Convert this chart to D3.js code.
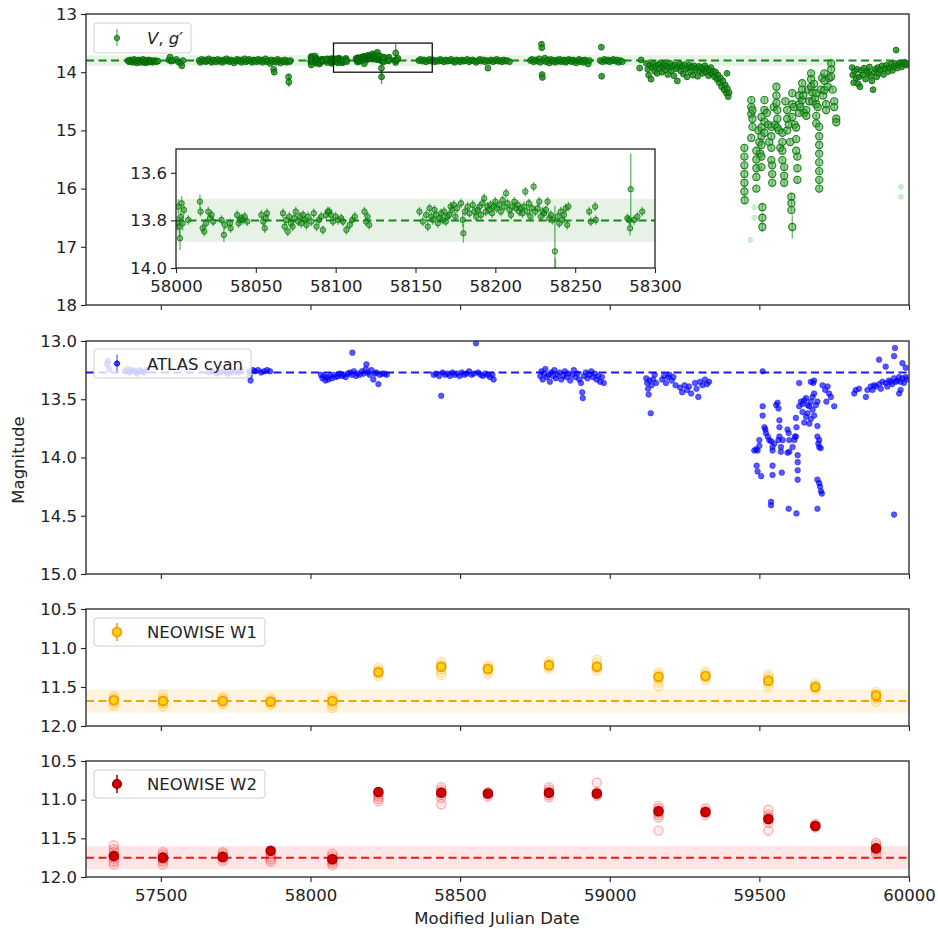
<!DOCTYPE html>
<html>
<head>
<meta charset="utf-8">
<script src="https://cdn.jsdelivr.net/npm/d3@7"></script>
<style>
  body { margin: 0; background: #fff; }
  svg { display: block; }
</style>
</head>
<body>
<svg id="chart" width="938" height="929"></svg>
<script>
// ---------- tick values ----------
const xTicks = [57500, 58000, 58500, 59000, 59500, 60000];
const insetXTicks = [58000, 58050, 58100, 58150, 58200, 58250, 58300];
const vgYTicks = [13, 14, 15, 16, 17, 18];
const atlasYTicks = [13.0, 13.5, 14.0, 14.5, 15.0];
const wiseYTicks = [10.5, 11.0, 11.5, 12.0];
const insetYTicks = [13.6, 13.8, 14.0];

// ---------- reference levels ----------
const vgMean = 13.80, vgBand = [13.71, 13.89], vgBandEnd = 59745;
const atlasMean = 13.27;
const w1Mean = 11.68, w1Band = [11.53, 11.83];
const w2Mean = 11.75, w2Band = [11.60, 11.90];
const zoomBox = [58077, 58407, 13.5, 14.0];

// ---------- V, g' photometry  [MJD, mag, err] ----------
const vgEarly = [
  [57390,13.80,.02],[57394,13.82,.02],[57398,13.79,.02],[57402,13.81,.02],[57405,13.83,.02],[57408,13.80,.02],
  [57411,13.78,.02],[57414,13.82,.02],[57417,13.81,.02],[57420,13.84,.02],[57423,13.80,.02],[57426,13.79,.02],
  [57429,13.82,.02],[57432,13.83,.02],[57435,13.80,.02],[57438,13.81,.02],[57441,13.78,.02],[57444,13.82,.02],
  [57447,13.84,.02],[57450,13.81,.02],[57453,13.80,.02],[57456,13.83,.02],[57459,13.79,.02],[57462,13.82,.02],
  [57465,13.81,.02],[57468,13.80,.02],[57472,13.83,.02],[57476,13.81,.02],[57480,13.80,.02],[57485,13.82,.02],
  [57490,13.81,.02],
  [57527,13.79,.03],[57531,13.74,.03],[57535,13.81,.02],[57540,13.80,.02],[57552,13.78,.02],[57558,13.82,.02],
  [57566,13.84,.03],[57570,13.89,.03],[57574,13.80,.02],
  [57628,13.80,.02],[57632,13.83,.02],[57636,13.78,.02],[57641,13.81,.02],[57646,13.79,.02],[57650,13.82,.02],
  [57655,13.80,.02],[57660,13.77,.02],[57665,13.81,.02],[57670,13.83,.02],[57675,13.79,.02],[57680,13.80,.02],
  [57685,13.82,.02],[57690,13.78,.02],[57695,13.81,.02],[57700,13.80,.02],[57705,13.83,.02],[57710,13.79,.02],
  [57715,13.81,.02],[57720,13.77,.02],[57725,13.80,.02],[57730,13.82,.02],[57735,13.79,.02],[57740,13.81,.02],
  [57745,13.84,.02],[57750,13.80,.02],[57755,13.78,.02],[57760,13.81,.02],[57765,13.79,.02],[57770,13.83,.02],
  [57775,13.80,.02],[57780,13.77,.02],[57785,13.82,.02],[57790,13.80,.02],[57795,13.78,.02],[57800,13.81,.02],
  [57805,13.83,.02],[57810,13.79,.02],[57815,13.80,.02],[57820,13.82,.02],[57825,13.78,.02],[57830,13.81,.02],
  [57835,13.79,.02],[57840,13.83,.02],[57845,13.80,.02],[57850,13.77,.02],[57855,13.82,.02],[57860,13.80,.02],
  [57865,13.85,.02],[57870,13.79,.02],[57874,13.82,.02],[57877,13.95,.03],[57879,14.00,.03],[57882,13.80,.02],
  [57886,13.83,.02],[57890,13.78,.02],[57895,13.81,.02],[57900,13.84,.02],[57905,13.80,.02],[57910,13.82,.02],
  [57915,13.79,.02],[57920,13.83,.02],[57924,13.81,.02],[57927,14.08,.05],[57928,14.17,.08],[57930,13.82,.02],
  [57933,13.80,.02]
];

// densely sampled stretch, also shown in the zoom-in panel
const vgInset = [
  [58000.8,13.812,.03],[58001.5,13.742,.03],[58002.1,13.826,.04],[58002.5,13.875,.05],[58003.1,13.784,.03],
  [58003.5,13.728,.03],[58004.2,13.812,.03],[58005.0,13.756,.02],[58007.7,13.798,.02],
  [58015.0,13.721,.03],[58015.4,13.763,.02],[58016.7,13.833,.02],[58017.7,13.847,.02],[58018.8,13.812,.02],
  [58020.2,13.763,.02],[58021.3,13.791,.02],[58022.3,13.777,.02],[58023.3,13.805,.02],
  [58028.5,13.798,.02],[58030.0,13.861,.03],[58030.6,13.819,.02],[58033.8,13.812,.02],[58034.2,13.833,.02],
  [58038.3,13.777,.02],[58039.2,13.812,.02],[58040.0,13.798,.02],[58041.0,13.791,.02],[58042.0,13.798,.02],
  [58043.0,13.784,.02],[58044.6,13.805,.02],
  [58053.5,13.777,.02],[58054.6,13.805,.02],[58055.6,13.833,.02],[58056.3,13.791,.02],[58057.0,13.770,.02],
  [58067.0,13.770,.02],[58068.0,13.826,.02],[58069.0,13.798,.02],[58070.0,13.847,.02],[58071.0,13.784,.02],
  [58072.0,13.812,.02],[58073.0,13.826,.02],[58074.0,13.791,.02],[58075.0,13.763,.02],[58076.5,13.805,.02],
  [58077.5,13.784,.02],[58078.5,13.812,.02],[58079.6,13.777,.02],[58080.6,13.798,.02],[58081.7,13.819,.02],
  [58082.7,13.784,.02],
  [58084.8,13.805,.02],[58086.3,13.770,.02],[58088.0,13.826,.02],[58089.6,13.798,.02],[58091.0,13.784,.02],
  [58092.0,13.840,.02],[58094.0,13.777,.02],[58095.0,13.763,.02],[58096.0,13.763,.02],[58097.0,13.777,.02],
  [58098.3,13.805,.02],[58100.0,13.784,.02],[58101.5,13.798,.02],[58103.5,13.791,.02],[58104.6,13.805,.02],
  [58106.7,13.840,.02],[58108.8,13.819,.02],[58110.4,13.798,.02],[58112.0,13.784,.02],
  [58118.0,13.763,.02],[58119.0,13.805,.02],[58120.0,13.784,.02],[58121.0,13.819,.02],
  [58152.5,13.763,.02],[58154.6,13.805,.02],[58156.7,13.777,.02],[58157.7,13.826,.02],[58158.8,13.749,.02],
  [58159.8,13.784,.02],[58160.8,13.798,.02],[58161.9,13.756,.02],[58162.9,13.777,.02],[58164.0,13.812,.02],
  [58165.0,13.791,.02],[58166.0,13.770,.02],[58167.0,13.798,.02],[58168.0,13.763,.02],[58169.0,13.805,.02],
  [58170.0,13.784,.02],[58171.0,13.777,.02],[58172.0,13.742,.02],[58173.0,13.756,.02],[58174.0,13.735,.02],
  [58175.0,13.784,.02],[58176.0,13.749,.02],[58178.5,13.728,.02],[58179.6,13.798,.03],[58180.0,13.854,.04],
  [58181.0,13.763,.02],[58182.7,13.742,.02],[58183.8,13.770,.02],[58185.8,13.735,.02],[58186.9,13.763,.02],
  [58188.0,13.784,.02],[58189.0,13.756,.02],[58190.0,13.742,.02],[58191.0,13.777,.02],[58192.0,13.728,.02],
  [58193.0,13.707,.02],[58194.0,13.763,.02],[58195.0,13.742,.02],[58196.0,13.756,.02],[58197.0,13.735,.02],
  [58198.0,13.770,.02],[58199.0,13.742,.02],[58200.0,13.721,.02],[58201.0,13.749,.02],[58202.5,13.735,.02],
  [58203.5,13.763,.02],[58204.6,13.714,.02],[58205.6,13.742,.02],[58206.7,13.686,.02],[58207.7,13.728,.02],
  [58208.8,13.756,.02],[58209.8,13.777,.02],[58210.8,13.742,.02],[58211.9,13.721,.02],[58213.0,13.749,.02],
  [58214.0,13.735,.02],[58215.0,13.763,.02],[58216.0,13.749,.02],[58217.0,13.770,.02],[58218.0,13.742,.02],
  [58218.8,13.679,.02],[58220.0,13.763,.02],[58221.0,13.728,.02],[58222.0,13.784,.02],[58223.0,13.749,.02],
  [58224.0,13.658,.02],[58225.0,13.763,.02],[58226.5,13.749,.02],[58227.5,13.721,.02],[58228.5,13.784,.02],
  [58229.6,13.763,.02],[58230.6,13.770,.02],[58231.7,13.756,.02],[58232.7,13.721,.02],[58233.8,13.791,.02],
  [58234.8,13.777,.02],[58235.8,13.798,.02],
  [58237.3,13.930,.19],[58237.6,14.080,.12],
  [58239.0,13.784,.02],[58240.0,13.812,.02],[58241.0,13.763,.02],[58242.0,13.798,.02],[58243.0,13.777,.02],
  [58244.0,13.749,.02],[58245.0,13.819,.02],[58245.8,13.742,.02],
  [58258.8,13.763,.02],[58259.8,13.805,.02],[58262.5,13.742,.02],[58262.9,13.798,.02],
  [58282.7,13.791,.02],[58283.8,13.798,.02],[58284.4,13.833,.03],[58284.8,13.669,.15],[58286.9,13.798,.02],
  [58289.0,13.784,.02],[58292.0,13.763,.02]
];

const vgMid = [
  [58362,13.80,.02],[58368,13.78,.02],[58374,13.81,.02],[58380,13.79,.02],[58386,13.82,.02],[58392,13.80,.02],
  [58398,13.78,.02],[58404,13.81,.02],[58410,13.79,.02],[58416,13.82,.02],[58422,13.80,.02],[58428,13.81,.02],
  [58434,13.78,.02],[58440,13.80,.02],[58446,13.82,.02],[58452,13.79,.02],[58458,13.81,.02],[58464,13.80,.02],
  [58470,13.78,.02],[58476,13.81,.02],[58482,13.83,.02],[58488,13.79,.02],[58494,13.80,.02],[58500,13.82,.02],
  [58506,13.79,.02],[58512,13.81,.02],[58518,13.80,.02],[58524,13.78,.02],[58530,13.82,.02],[58536,13.80,.02],
  [58542,13.79,.02],[58548,13.81,.02],[58554,13.83,.02],[58560,13.80,.02],[58566,13.78,.02],[58572,13.81,.02],
  [58578,13.79,.02],[58584,13.82,.02],[58590,13.80,.02],[58593,13.93,.03],[58598,13.81,.02],[58604,13.79,.02],
  [58610,13.82,.02],[58616,13.80,.02],[58622,13.78,.02],[58628,13.81,.02],[58634,13.80,.02],[58640,13.82,.02],
  [58646,13.79,.02],[58652,13.81,.02],[58658,13.80,.02],[58665,13.82,.02],
  [58735,13.80,.02],[58740,13.78,.02],[58746,13.82,.02],[58752,13.79,.02],[58758,13.81,.02],[58764,13.77,.02],
  [58768,13.83,.02],[58772,13.52,.04],[58773,13.58,.04],[58774,14.04,.04],[58775,14.09,.04],[58778,13.80,.02],
  [58783,13.76,.02],[58788,13.82,.02],[58793,13.79,.02],[58798,13.84,.02],[58803,13.78,.02],[58808,13.81,.02],
  [58813,13.80,.02],[58818,13.83,.02],[58823,13.79,.02],[58828,13.81,.02],[58833,13.78,.02],[58838,13.82,.02],
  [58843,13.80,.02],[58848,13.79,.02],[58853,13.83,.02],[58858,13.81,.02],[58863,13.78,.02],[58868,13.80,.02],
  [58873,13.82,.02],[58878,13.79,.02],[58883,13.81,.02],[58888,13.84,.02],[58893,13.80,.02],[58898,13.78,.02],
  [58903,13.82,.02],[58908,13.80,.02],[58913,13.83,.02],[58918,13.79,.02],[58923,13.81,.02],[58928,13.86,.02],
  [58932,13.80,.02],
  [58968,13.80,.02],[58972,13.57,.04],[58973,14.07,.04],[58976,13.82,.02],[58982,13.78,.02],[58988,13.81,.02],
  [58994,13.79,.02],[59000,13.82,.02],[59006,13.80,.02],[59012,13.78,.02],[59018,13.81,.02],[59024,13.79,.02],
  [59030,13.83,.02],[59036,13.80,.02],[59042,13.82,.02],
  [59100,13.93,.03],[59105,13.79,.02]
];

const vgPreDip = [
  [59123,13.85,.03],[59127,13.95,.03],[59130,14.05,.03],[59134,13.88,.03],[59138,14.12,.03],[59142,13.92,.03],
  [59146,13.86,.03],[59150,13.98,.03],[59154,13.90,.03],[59158,14.02,.03],[59162,13.87,.03],[59166,13.94,.03],
  [59170,13.84,.03],[59174,14.00,.03],[59178,13.91,.03],[59182,13.86,.03],[59186,13.96,.03],[59190,13.89,.03],
  [59194,14.04,.03],[59198,13.92,.03],[59202,13.85,.03],[59206,13.97,.03],[59210,13.90,.03],[59214,14.06,.03],
  [59218,13.88,.03],[59222,13.94,.03],[59226,14.15,.03],[59230,13.91,.03],[59234,13.86,.03],[59238,13.98,.03],
  [59242,13.90,.03],[59246,14.03,.03],[59250,13.87,.03],[59254,13.95,.03],[59258,14.08,.03],[59262,13.92,.03],
  [59266,13.88,.03],[59270,13.99,.03],[59274,13.91,.03],[59278,14.05,.03],[59282,13.89,.03],[59286,13.96,.03],
  [59290,13.93,.03],[59294,14.07,.03],[59298,13.90,.03],[59302,13.98,.03],[59306,13.92,.03],[59310,14.02,.03],
  [59314,13.95,.03],[59318,13.89,.03],[59322,14.00,.03],[59326,13.94,.03],[59330,14.06,.03],[59334,13.97,.03],
  [59338,13.92,.03],[59342,14.03,.03],[59346,13.98,.03],[59350,14.08,.03],[59354,14.00,.03],[59358,14.12,.03],
  [59362,14.05,.03],[59366,14.18,.03],[59370,14.10,.03],[59374,14.25,.03],[59378,14.15,.03],[59382,14.30,.03],
  [59386,14.22,.03],[59390,14.36,.03],[59392,14.02,.03],[59393,14.28,.03],[59396,14.42,.03],[59399,14.35,.03]
];

const vgDip = [
  [59450,15.30,.05],[59450,15.45,.05],[59450,15.60,.05],[59450,15.75,.05],[59450,15.90,.05],[59450,16.05,.05],
  [59451,16.20,.06],
  [59473,14.48,.04],[59473,14.60,.04],[59473,14.72,.04],[59473,15.13,.04],
  [59477,14.65,.04],[59477,14.80,.04],[59477,14.94,.04],
  [59490,15.35,.04],[59490,15.50,.04],[59490,15.65,.04],[59490,15.80,.04],[59490,16.00,.05],
  [59497,15.00,.04],[59500,15.20,.04],[59503,15.40,.04],
  [59507,14.77,.04],[59507,14.95,.04],[59507,15.10,.04],[59507,15.25,.04],[59507,15.45,.04],[59507,15.63,.04],
  [59510,16.32,.08],[59510,16.50,.08],[59510,16.66,.08],
  [59517,14.48,.04],[59517,14.65,.04],[59517,14.85,.04],[59517,15.04,.04],
  [59525,14.70,.04],[59530,14.90,.04],[59533,15.20,.04],
  [59540,14.94,.04],[59540,15.10,.04],[59540,15.30,.04],[59540,15.51,.04],
  [59543,15.60,.04],[59543,15.75,.04],[59543,15.90,.04],
  [59548,14.60,.04],[59552,14.90,.04],
  [59557,14.25,.04],[59557,14.40,.04],[59557,14.53,.04],
  [59560,14.65,.04],[59560,14.80,.04],[59560,14.95,.04],
  [59565,15.00,.04],[59570,15.30,.04],
  [59577,15.04,.04],[59577,15.20,.04],[59577,15.35,.04],[59577,15.51,.04],
  [59583,15.63,.04],[59583,15.78,.04],[59583,15.90,.04],
  [59587,14.50,.04],
  [59593,14.65,.04],[59593,14.80,.04],[59593,15.00,.04],
  [59598,14.90,.04],[59603,15.20,.04],
  [59607,16.14,.05],[59607,16.25,.05],[59607,16.37,.05],
  [59610,16.66,.20],
  [59610,14.36,.04],[59610,14.55,.04],[59610,14.77,.04],
  [59615,14.60,.04],[59618,14.90,.04],
  [59623,14.95,.04],[59623,15.15,.04],[59623,15.35,.04],
  [59627,15.45,.04],[59627,15.65,.04],[59627,15.85,.04],
  [59633,14.40,.04],[59633,14.55,.04],[59633,14.70,.04],
  [59637,14.60,.04],
  [59643,14.19,.04],[59643,14.30,.04],[59643,14.48,.04],
  [59647,14.40,.04],[59650,14.70,.04],
  [59657,14.65,.04],[59657,14.75,.04],
  [59663,14.30,.04],[59667,14.50,.04],
  [59673,14.02,.04],[59673,14.12,.04],[59673,14.25,.04],
  [59677,14.35,.04],[59677,14.50,.04],
  [59683,14.20,.04],[59686,14.45,.04],
  [59690,14.36,.04],[59690,14.55,.04],[59690,14.75,.04],[59690,14.88,.04],
  [59695,14.60,.04],
  [59700,14.94,.04],[59700,15.10,.04],[59700,15.25,.04],[59700,15.40,.04],[59700,15.55,.04],[59700,15.70,.04],
  [59700,15.85,.04],[59700,16.00,.04],
  [59705,14.30,.04],[59710,14.10,.04],[59713,14.40,.04],
  [59717,14.02,.04],[59717,14.15,.04],[59717,14.31,.04],
  [59723,14.55,.04],[59723,14.65,.04],
  [59728,14.25,.04],[59733,14.10,.04],
  [59740,13.85,.04],[59740,13.95,.04],[59740,14.08,.04],
  [59745,14.30,.04],
  [59750,14.50,.04],[59750,14.60,.04],
  [59757,14.80,.04],[59757,14.86,.04]
];

const vgFaint = [[59470,16.88,.05],[59483,16.32,.05],[59483,16.50,.05],[59973,15.97,.03],[59973,16.14,.03]];

const vgLate = [
  [59810,13.92,.03],[59812,14.05,.03],[59815,14.18,.03],[59818,13.98,.03],[59823,14.10,.03],[59826,13.95,.03],
  [59830,14.20,.03],[59833,14.08,.03],[59836,14.25,.03],[59840,13.97,.03],[59845,14.05,.03],[59850,13.93,.03],
  [59855,14.12,.03],[59860,13.98,.03],[59865,14.02,.03],[59868,13.91,.03],[59872,14.06,.03],[59876,14.15,.03],
  [59880,14.30,.03],[59884,14.00,.03],[59888,13.95,.03],[59892,14.08,.03],[59896,13.92,.03],[59900,14.02,.03],
  [59905,13.96,.03],[59910,13.89,.03],[59915,14.04,.03],[59920,13.94,.03],[59925,13.88,.03],[59930,13.99,.03],
  [59935,13.92,.03],[59940,13.86,.03],[59945,13.97,.03],[59950,13.90,.03],[59955,13.85,.03],[59957,13.62,.03],
  [59960,13.93,.03],[59965,13.87,.03],[59970,13.84,.03],[59975,13.91,.03],[59980,13.86,.03],[59985,13.83,.03],
  [59990,13.88,.03],[59995,13.85,.03]
];

// ---------- ATLAS cyan  [MJD, mag] ----------
const atlasEarly = [
  [57320,13.20],[57324,13.17],[57328,13.24],[57380,13.26],[57388,13.24],[57396,13.27],[57404,13.25],[57412,13.26],
  [57420,13.28],[57428,13.25],[57436,13.26],[57444,13.27],[57452,13.25],
  [57660,13.27],[57672,13.26],[57685,13.28],[57698,13.27],[57710,13.26],[57722,13.28],[57735,13.27],[57748,13.26],
  [57760,13.27],[57768,13.25],
  [57795,13.26],[57797,13.30],[57800,13.34],[57808,13.25],[57815,13.26],[57825,13.25],[57835,13.27],[57845,13.26],
  [57855,13.25],[57865,13.26]
];
const atlasQuiet = [
  [58035,13.29],[58040,13.32],[58045,13.30],[58050,13.34],[58055,13.31],[58060,13.33],[58066,13.30],[58072,13.32],
  [58078,13.29],[58085,13.31],[58092,13.30],[58098,13.28],[58105,13.30],[58112,13.29],[58118,13.31],[58125,13.28],
  [58132,13.27],[58138,13.29],[58140,13.10],[58145,13.26],[58152,13.30],[58158,13.28],[58165,13.29],[58172,13.26],
  [58178,13.28],[58185,13.24],[58187,13.20],[58192,13.27],[58198,13.29],[58204,13.25],[58210,13.33],[58215,13.28],
  [58220,13.27],[58227,13.37],[58232,13.29],[58240,13.28],[58248,13.28],[58255,13.29],
  [58412,13.29],[58420,13.28],[58430,13.30],[58437,13.47],[58442,13.27],[58450,13.29],[58458,13.28],[58466,13.30],
  [58474,13.27],[58482,13.29],[58490,13.28],[58498,13.30],[58506,13.27],[58514,13.29],[58522,13.28],[58530,13.26],
  [58538,13.29],[58546,13.28],[58553,13.02],[58560,13.27],[58568,13.29],[58576,13.30],[58584,13.28],[58592,13.29],
  [58600,13.31],[58608,13.29],[58612,13.33],
  [58768,13.30],[58772,13.26],[58776,13.33],[58780,13.28],[58785,13.24],[58790,13.31],[58795,13.29],[58800,13.35],
  [58805,13.27],[58810,13.30],[58815,13.25],[58820,13.32],[58826,13.29],[58832,13.27],[58838,13.33],[58845,13.30],
  [58850,13.26],[58856,13.31],[58862,13.28],[58868,13.34],[58874,13.29],[58880,13.25],[58886,13.31],[58892,13.28],
  [58898,13.33],[58904,13.36],[58908,13.44],[58910,13.49],[58914,13.30],[58920,13.27],[58926,13.32],[58932,13.29],
  [58938,13.26],[58944,13.31],[58950,13.28],[58956,13.33],[58962,13.30],[58968,13.35],[58974,13.31],[58980,13.36],
  [59122,13.32],[59125,13.36],[59128,13.41],[59130,13.46],[59133,13.34],[59137,13.62],[59140,13.38],[59145,13.33],
  [59150,13.29],[59155,13.36],
  [59175,13.33],[59182,13.30],[59188,13.36],[59195,13.31],[59200,13.29],[59207,13.34],[59213,13.31],[59220,13.38],
  [59235,13.40],[59242,13.44],[59250,13.38],[59258,13.42],[59265,13.39],[59272,13.45],
  [59285,13.36],[59290,13.41],[59296,13.48],[59302,13.35],[59310,13.38],[59318,13.33],[59325,13.37],[59332,13.35]
];
const atlasDip = [
  [59511,13.26],[59511,13.56],[59511,13.64],
  [59483,13.94],[59489,13.93],[59494,13.94],[59500,13.90],[59500,13.85],
  [59491,14.07],[59494,14.12],[59506,14.16],
  [59517,13.74],[59520,13.76],[59522,13.79],[59528,13.82],[59533,13.85],[59539,13.86],[59544,13.91],[59550,13.88],
  [59544,13.94],[59544,14.07],[59544,14.15],[59575,14.13],[59539,14.38],[59539,14.41],
  [59556,13.55],[59561,13.53],[59564,13.58],[59567,13.68],[59567,13.74],[59567,13.82],[59564,13.85],[59572,13.91],
  [59572,13.95],[59578,13.85],
  [59594,13.76],[59598,13.79],[59600,13.85],[59594,13.96],[59611,13.91],[59600,13.95],[59617,13.85],[59622,13.82],
  [59622,13.66],[59624,13.74],[59619,13.82],
  [59628,13.98],[59628,14.04],[59628,14.11],[59628,14.19],[59598,14.44],[59624,14.48],
  [59633,13.56],[59639,13.52],[59644,13.54],[59650,13.51],[59656,13.49],[59661,13.55],[59667,13.56],[59672,13.52],
  [59678,13.48],[59683,13.45],[59656,13.65],[59667,13.71],[59678,13.59],[59689,13.55],[59694,13.52],[59644,13.61],
  [59650,13.70],[59661,13.62],[59672,13.67],[59683,13.64],
  [59672,13.35],[59680,13.36],[59683,13.34],[59633,13.36],
  [59694,13.73],[59694,13.82],[59700,13.85],[59700,13.91],[59705,13.92],[59697,13.88],
  [59694,14.19],[59700,14.22],[59703,14.25],[59706,14.29],[59709,14.31],[59694,14.44],
  [59711,13.38],[59720,13.42],[59728,13.39],[59733,13.45],[59739,13.48],[59724,13.52],[59750,13.56]
];
const atlasLate = [
  [59817,13.45],[59822,13.42],[59833,13.41],[59856,13.48],[59861,13.42],[59872,13.39],[59878,13.42],[59883,13.38],
  [59889,13.39],[59900,13.37],[59906,13.41],[59911,13.35],[59922,13.36],[59928,13.39],[59933,13.34],[59939,13.35],
  [59944,13.37],[59950,13.32],[59956,13.35],[59961,13.34],[59967,13.31],[59972,13.35],[59978,13.32],[59983,13.36],
  [59989,13.31],[59967,13.45],[59972,13.42],[59993,13.33],
  [59900,13.16],[59922,13.22],[59950,13.13],[59953,13.06],[59978,13.19],[59989,13.23],
  [59950,14.49]
];

// ---------- NEOWISE (epoch means and single exposures) ----------
const wiseEpochs = [57343,57507,57707,57867,58073,58227,58437,58593,58797,58957,59163,59320,59530,59687,59890];
const w1Mag = [11.67,11.68,11.68,11.69,11.68,11.31,11.24,11.27,11.22,11.24,11.37,11.36,11.42,11.50,11.61];
const w1Err = [0.03,0.03,0.03,0.03,0.03,0.03,0.03,0.03,0.03,0.03,0.03,0.03,0.03,0.03,0.03];
const w1Single = [
  [11.61,11.64,11.66,11.69,11.71,11.74],[11.60,11.64,11.67,11.70,11.72,11.75],[11.63,11.65,11.67,11.70,11.72],
  [11.64,11.67,11.69,11.71,11.73],[11.62,11.65,11.68,11.71,11.74,11.77],[11.25,11.28,11.30,11.33,11.36],
  [11.18,11.21,11.24,11.27,11.31,11.35],[11.22,11.25,11.27,11.30,11.33],[11.17,11.20,11.22,11.24,11.27],
  [11.15,11.19,11.23,11.26,11.29],[11.31,11.34,11.37,11.40,11.44,11.49],[11.30,11.33,11.36,11.38,11.41],
  [11.34,11.37,11.40,11.43,11.46,11.50],[11.45,11.48,11.50,11.53],[11.56,11.59,11.62,11.65,11.69]
];
const w2Mag = [11.73,11.75,11.74,11.66,11.77,10.90,10.91,10.92,10.91,10.92,11.15,11.16,11.25,11.34,11.63];
const w2Err = [0.04,0.04,0.04,0.04,0.04,0.04,0.04,0.04,0.04,0.04,0.04,0.04,0.04,0.04,0.04];
const w2Single = [
  [11.59,11.64,11.68,11.72,11.76,11.80,11.84],[11.68,11.71,11.74,11.77,11.80,11.84],[11.68,11.70,11.73,11.76,11.79],
  [11.70,11.74,11.77,11.80],[11.70,11.73,11.76,11.79,11.82,11.85],[10.93,10.96,10.99,11.02],
  [10.84,10.87,10.90,10.94,10.98,11.06],[10.90,10.93,10.96],[10.84,10.87,10.90,10.94,10.97],
  [10.78,10.90,10.93,10.95],[11.08,11.11,11.14,11.17,11.20,11.23,11.40],[11.11,11.14,11.17,11.20],
  [11.13,11.19,11.22,11.26,11.30,11.40],[11.31,11.33,11.36],[11.56,11.59,11.62,11.66,11.70]
];

// ---------- drawing ----------
const FONT = '"DejaVu Sans", Verdana, sans-serif';
const FS = 16.5;
const INK = '#222';
const svg = d3.select('#chart');
const L = 86, R = 909;
const x = d3.scaleLinear().domain([57250, 60000]).range([L, R]);

const panels = [
  { id: 'vg',    top: 14,  bottom: 305, domain: [13, 18],    ticks: vgYTicks,    fmt: d3.format('d') },
  { id: 'atlas', top: 341, bottom: 574, domain: [13, 15],    ticks: atlasYTicks, fmt: d3.format('.1f') },
  { id: 'w1',    top: 609, bottom: 726, domain: [10.5, 12],  ticks: wiseYTicks,  fmt: d3.format('.1f') },
  { id: 'w2',    top: 761, bottom: 877, domain: [10.5, 12],  ticks: wiseYTicks,  fmt: d3.format('.1f') }
];
panels.forEach(p => { p.y = d3.scaleLinear().domain(p.domain).range([p.top, p.bottom]); });

const defs = svg.append('defs');
function clip(id, x0, y0, w, h) {
  defs.append('clipPath').attr('id', id).append('rect').attr('x', x0).attr('y', y0).attr('width', w).attr('height', h);
  return `url(#${id})`;
}

function styleAxis(g) {
  g.attr('font-family', FONT).attr('font-size', FS);
  g.select('.domain').remove();
  g.selectAll('.tick line').attr('stroke', INK).attr('stroke-width', 1.1);
  g.selectAll('.tick text').attr('fill', INK);
}

function errorPoints(g, data, xs, ys, o) {
  g.append('g').selectAll('line').data(data).join('line')
    .attr('x1', d => xs(d[0])).attr('x2', d => xs(d[0]))
    .attr('y1', d => ys(d[1] - d[2])).attr('y2', d => ys(d[1] + d[2]))
    .attr('stroke', o.line).attr('stroke-opacity', o.lineOpacity).attr('stroke-width', o.lw || 1.3);
  g.append('g').selectAll('circle').data(data).join('circle')
    .attr('cx', d => xs(d[0])).attr('cy', d => ys(d[1])).attr('r', o.r)
    .attr('fill', o.fill).attr('fill-opacity', o.fillOpacity)
    .attr('stroke', o.stroke).attr('stroke-opacity', o.strokeOpacity).attr('stroke-width', o.sw);
}

function dashed(g, ys, value, color) {
  g.append('line').attr('x1', L).attr('x2', R).attr('y1', ys(value)).attr('y2', ys(value))
    .attr('stroke', color).attr('stroke-width', 2).attr('stroke-dasharray', '8,4.5');
}

function legend(g, y0, h, label, drawHandle) {
  const lg = g.append('g');
  const box = lg.append('rect').attr('x', 94).attr('y', y0).attr('height', h).attr('rx', 3)
    .attr('fill', '#fff').attr('fill-opacity', 0.8).attr('stroke', '#d0d0d0').attr('stroke-width', 1);
  drawHandle(lg, 117, y0 + h / 2);
  const t = lg.append('text').attr('x', 147).attr('y', y0 + h / 2 + 6)
    .attr('font-family', FONT).attr('font-size', FS).attr('fill', INK);
  label(t);
  box.attr('width', 147 - 94 + t.node().getComputedTextLength() + 8);
}

const allVg = [...vgEarly, ...vgInset, ...vgMid, ...vgPreDip, ...vgLate];

panels.forEach((p, i) => {
  const g = svg.append('g');
  const cp = clip('clip-' + p.id, L, p.top, R - L, p.bottom - p.top);
  const data = g.append('g').attr('clip-path', cp);
  const y = p.y;

  if (p.id === 'vg') {
    data.append('rect').attr('x', x(57250)).attr('width', x(vgBandEnd) - x(57250))
      .attr('y', y(vgBand[0])).attr('height', y(vgBand[1]) - y(vgBand[0]))
      .attr('fill', 'green').attr('fill-opacity', 0.1);
    dashed(data, y, vgMean, '#138a13');
    errorPoints(data, allVg, x, y, { line: '#0b7a0b', lineOpacity: 0.7, lw: 1.5, r: 2.9, fill: '#128a12', fillOpacity: 0.7,
      stroke: '#056405', strokeOpacity: 0.9, sw: 1 });
    errorPoints(data, vgDip, x, y, { line: '#1f8f1f', lineOpacity: 0.6, lw: 1.4, r: 3.6, fill: '#3aa83a', fillOpacity: 0.5,
      stroke: '#0b6e0b', strokeOpacity: 0.9, sw: 1.1 });
    errorPoints(data, vgFaint, x, y, { line: '#7fd07f', lineOpacity: 0.35, r: 2.6, fill: '#8fdc8f', fillOpacity: 0.35,
      stroke: '#8fdc8f', strokeOpacity: 0.4, sw: 0.8 });
    // zoom window outline
    g.append('rect').attr('x', x(zoomBox[0])).attr('y', y(zoomBox[2]))
      .attr('width', x(zoomBox[1]) - x(zoomBox[0])).attr('height', y(zoomBox[3]) - y(zoomBox[2]))
      .attr('fill', 'none').attr('stroke', '#111').attr('stroke-width', 1.3);
  } else if (p.id === 'atlas') {
    dashed(data, y, atlasMean, '#1a1aee');
    const pts = [...atlasEarly, ...atlasQuiet, ...atlasDip, ...atlasLate];
    data.append('g').selectAll('circle').data(pts).join('circle')
      .attr('cx', d => x(d[0])).attr('cy', d => y(d[1])).attr('r', 2.8)
      .attr('fill', 'blue').attr('fill-opacity', 0.65).attr('stroke', 'blue').attr('stroke-opacity', 0.55).attr('stroke-width', 0.8);
  } else {
    const isW1 = p.id === 'w1';
    const band = isW1 ? w1Band : w2Band;
    const col = isW1 ? 'orange' : 'red';
    data.append('rect').attr('x', L).attr('width', R - L)
      .attr('y', y(band[0])).attr('height', y(band[1]) - y(band[0]))
      .attr('fill', col).attr('fill-opacity', isW1 ? 0.12 : 0.1);
    dashed(data, y, isW1 ? w1Mean : w2Mean, isW1 ? '#f5a300' : '#f01818');
    const singles = (isW1 ? w1Single : w2Single).flatMap((arr, k) => arr.map(m => [wiseEpochs[k], m]));
    data.append('g').selectAll('circle').data(singles).join('circle')
      .attr('cx', d => x(d[0])).attr('cy', d => y(d[1])).attr('r', 4.6)
      .attr('fill', isW1 ? '#ffc400' : 'red').attr('fill-opacity', isW1 ? 0.14 : 0.08)
      .attr('stroke', col).attr('stroke-opacity', 0.3).attr('stroke-width', 1.2);
    const mags = isW1 ? w1Mag : w2Mag, errs = isW1 ? w1Err : w2Err;
    const means = wiseEpochs.map((t, k) => [t, mags[k], errs[k]]);
    errorPoints(data, means, x, y, isW1
      ? { line: '#f0a000', lineOpacity: 1, r: 4.4, fill: '#ffd21a', fillOpacity: 1, stroke: '#f29b00', strokeOpacity: 1, sw: 1.8 }
      : { line: '#b00000', lineOpacity: 1, r: 4.6, fill: '#d40000', fillOpacity: 1, stroke: '#9c0000', strokeOpacity: 1, sw: 1.4 });
  }

  // axes
  const ya = g.append('g').attr('transform', `translate(${L},0)`)
    .call(d3.axisLeft(y).tickValues(p.ticks).tickFormat(p.fmt).tickSize(5).tickPadding(4));
  styleAxis(ya);
  const last = i === panels.length - 1;
  const xa = g.append('g').attr('transform', `translate(0,${p.bottom})`)
    .call(d3.axisBottom(x).tickValues(xTicks).tickFormat(last ? d3.format('d') : () => '').tickSize(5).tickPadding(7));
  styleAxis(xa);

  // legends
  if (p.id === 'vg') {
    legend(g, 23, 30, t => {
      t.append('tspan').attr('font-style', 'italic').text('V');
      t.append('tspan').text(', ');
      t.append('tspan').attr('font-style', 'italic').text('g′');
    }, (lg, cx, cy) => {
      lg.append('line').attr('x1', cx).attr('x2', cx).attr('y1', cy - 9).attr('y2', cy + 8).attr('stroke', 'green').attr('stroke-opacity', 0.6).attr('stroke-width', 1.3);
      lg.append('circle').attr('cx', cx).attr('cy', cy).attr('r', 2.6).attr('fill', 'green').attr('fill-opacity', 0.6).attr('stroke', 'green');
    });
  } else if (p.id === 'atlas') {
    legend(g, 349, 29, t => t.text('ATLAS cyan'), (lg, cx, cy) => {
      lg.append('line').attr('x1', cx).attr('x2', cx).attr('y1', cy - 9).attr('y2', cy + 8).attr('stroke', 'blue').attr('stroke-opacity', 0.6).attr('stroke-width', 1.3);
      lg.append('circle').attr('cx', cx).attr('cy', cy).attr('r', 2.6).attr('fill', 'blue').attr('fill-opacity', 0.7).attr('stroke', 'blue');
    });
  } else {
    const isW1 = p.id === 'w1';
    legend(g, isW1 ? 618 : 770, 28, t => t.text(isW1 ? 'NEOWISE W1' : 'NEOWISE W2'), (lg, cx, cy) => {
      lg.append('line').attr('x1', cx).attr('x2', cx).attr('y1', cy - 9).attr('y2', cy + 9)
        .attr('stroke', isW1 ? '#f0a000' : '#b00000').attr('stroke-width', 1.6);
      lg.append('circle').attr('cx', cx).attr('cy', cy).attr('r', 4.4)
        .attr('fill', isW1 ? '#ffd21a' : '#d40000').attr('stroke', isW1 ? '#f29b00' : '#9c0000').attr('stroke-width', isW1 ? 1.8 : 1.4);
    });
  }

  // frame
  g.append('rect').attr('x', L).attr('y', p.top).attr('width', R - L).attr('height', p.bottom - p.top)
    .attr('fill', 'none').attr('stroke', INK).attr('stroke-width', 1.3);

  // zoom-in inset on the quiescent stretch
  if (p.id === 'vg') {
    const ix = d3.scaleLinear().domain([58000, 58300]).range([176, 655]);
    const iy = d3.scaleLinear().domain([13.5, 14.0]).range([149, 268]);
    const ig = g.append('g');
    ig.append('rect').attr('x', 176).attr('y', 149).attr('width', 479).attr('height', 119).attr('fill', '#fff');
    const icp = clip('clip-inset', 176, 149, 479, 119);
    const idata = ig.append('g').attr('clip-path', icp);
    idata.append('rect').attr('x', 176).attr('width', 479)
      .attr('y', iy(vgBand[0])).attr('height', iy(vgBand[1]) - iy(vgBand[0]))
      .attr('fill', 'green').attr('fill-opacity', 0.1);
    idata.append('line').attr('x1', 176).attr('x2', 655).attr('y1', iy(vgMean)).attr('y2', iy(vgMean))
      .attr('stroke', '#138a13').attr('stroke-width', 2).attr('stroke-dasharray', '8,4.5');
    errorPoints(idata, vgInset, ix, iy, { line: '#118811', lineOpacity: 0.6, lw: 1.4, r: 2.7, fill: '#229922', fillOpacity: 0.5,
      stroke: '#0a700a', strokeOpacity: 0.8, sw: 1 });
    const iya = ig.append('g').attr('transform', 'translate(176,0)')
      .call(d3.axisLeft(iy).tickValues(insetYTicks).tickFormat(d3.format('.1f')).tickSize(5).tickPadding(4));
    styleAxis(iya);
    const ixa = ig.append('g').attr('transform', 'translate(0,268)')
      .call(d3.axisBottom(ix).tickValues(insetXTicks).tickFormat(d3.format('d')).tickSize(5).tickPadding(7));
    styleAxis(ixa);
    ig.append('rect').attr('x', 176).attr('y', 149).attr('width', 479).attr('height', 119)
      .attr('fill', 'none').attr('stroke', INK).attr('stroke-width', 1.3);
  }
});

// axis titles
svg.append('text').attr('x', 497).attr('y', 924).attr('text-anchor', 'middle')
  .attr('font-family', FONT).attr('font-size', FS).attr('fill', INK).text('Modified Julian Date');
svg.append('text').attr('transform', 'translate(24,460) rotate(-90)').attr('text-anchor', 'middle')
  .attr('font-family', FONT).attr('font-size', FS).attr('fill', INK).text('Magnitude');
</script>
</body>
</html>
